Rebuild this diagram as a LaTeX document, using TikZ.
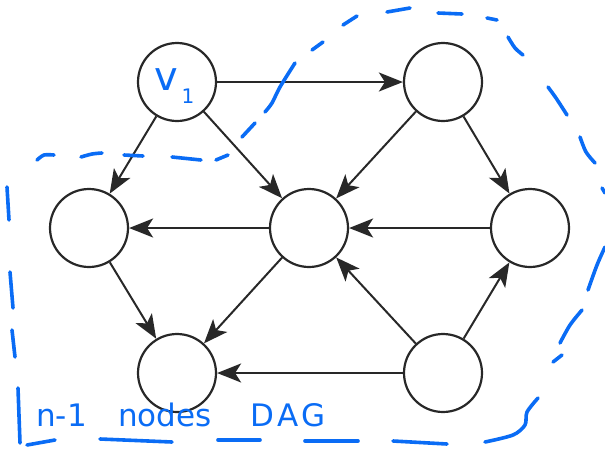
\documentclass[tikz,border=0pt]{standalone}
\usepackage{fontspec}
\newfontfamily\handfont{DejaVu Sans}
\usetikzlibrary{arrows.meta}
\definecolor{ink}{RGB}{10,108,245}
\definecolor{edgegray}{RGB}{40,40,40}
\begin{document}
\begin{tikzpicture}[x=1pt,y=-1pt,
  vertex/.style={circle,draw=edgegray,line width=2.2pt,minimum size=78pt,inner sep=0pt,fill=white},
  edge/.style={draw=edgegray,line width=2pt,-{Stealth[length=24pt,width=19pt,inset=6pt]}},
  pen/.style={ink,line width=3.6pt,line cap=round,line join=round},
  hand/.style={text=ink,font=\handfont\fontsize{31}{31}\selectfont,inner sep=0pt}
]
\useasboundingbox (0,0) rectangle (605,448);

% vertices
\node[vertex] (v1) at (177,82) {};
\node[vertex] (tr) at (443,82) {};
\node[vertex] (ml) at (89,228) {};
\node[vertex] (c)  at (309,228) {};
\node[vertex] (mr) at (530,228) {};
\node[vertex] (bl) at (177,373) {};
\node[vertex] (br) at (443,373) {};

% directed edges
\draw[edge] (v1) -- (tr);
\draw[edge] (v1) -- (ml);
\draw[edge] (v1) -- (c);
\draw[edge] (tr) -- (c);
\draw[edge] (tr) -- (mr);
\draw[edge] (mr) -- (c);
\draw[edge] (c) -- (ml);
\draw[edge] (c) -- (bl);
\draw[edge] (ml) -- (bl);
\draw[edge] (br) -- (bl);
\draw[edge] (br) -- (c);
\draw[edge] (br) -- (mr);

% label of the first vertex
\node[hand,font=\handfont\fontsize{40}{40}\selectfont] (vlab) at (166,80) {v};
\node[hand,font=\handfont\fontsize{20}{20}\selectfont] (vsub) at (188,96) {1};

% hand-drawn dashed boundary of the remaining n-1 nodes
% upper left edge
\draw[pen] plot[smooth] coordinates {(37,160) (44,155) (54,155)};
\draw[pen] plot[smooth] coordinates {(81,157) (92,154) (102,153)};
\draw[pen] plot[smooth] coordinates {(124,155) (143,156)};
\draw[pen] plot[smooth] coordinates {(172,157) (201,160)};
\draw[pen] plot[smooth] coordinates {(216,160) (228,155)};
% rising arc over the top
\draw[pen] plot[smooth] coordinates {(242,137) (255,123)};
\draw[pen] plot[smooth] coordinates {(265,112) (272,103) (280,87) (295,63)};
\draw[pen] plot[smooth] coordinates {(312,50) (323,42)};
\draw[pen] plot[smooth] coordinates {(343,25) (357,16)};
\draw[pen] plot[smooth] coordinates {(387,12) (410,8)};
\draw[pen] plot[smooth] coordinates {(438,13) (462,14)};
\draw[pen] plot[smooth] coordinates {(487,18) (497,20)};
% right side
\draw[pen] plot[smooth] coordinates {(508,37) (515,48) (523,55)};
\draw[pen] plot[smooth] coordinates {(548,87) (556,98) (567,115)};
\draw[pen] plot[smooth] coordinates {(580,137) (586,152) (595,163)};
\draw[pen] plot[smooth] coordinates {(602,188) (605,193)};
\draw[pen] plot[smooth] coordinates {(605,247) (597,265) (588,290)};
\draw[pen] plot[smooth] coordinates {(582,310) (570,325) (560,343)};
\draw[pen] plot[smooth] coordinates {(562,355) (553,362)};
\draw[pen] plot[smooth] coordinates {(538,398) (527,412) (525,425) (513,435) (485,442)};
% bottom edge
\draw[pen] plot[smooth] coordinates {(447,444) (393,441)};
\draw[pen] plot[smooth] coordinates {(358,441) (305,441)};
\draw[pen] plot[smooth] coordinates {(260,440) (218,440)};
\draw[pen] plot[smooth] coordinates {(172,442) (100,439)};
\draw[pen] plot[smooth] coordinates {(55,440) (27,445)};
% left edge
\draw[pen] plot[smooth] coordinates {(20,443) (18,388)};
\draw[pen] plot[smooth] coordinates {(15,357) (12,330)};
\draw[pen] plot[smooth] coordinates {(13,308) (10,272)};
\draw[pen] plot[smooth] coordinates {(9,220) (7,187)};

% caption
\node[hand,anchor=base west] (cap1) at (36,426) {n-1};
\node[hand,anchor=base west] (cap2) at (118,426) {nodes};
\node[hand,anchor=base west] (cap3) at (250,426) {D\hspace{3pt}A\hspace{3pt}G};
\end{tikzpicture}
\end{document}
